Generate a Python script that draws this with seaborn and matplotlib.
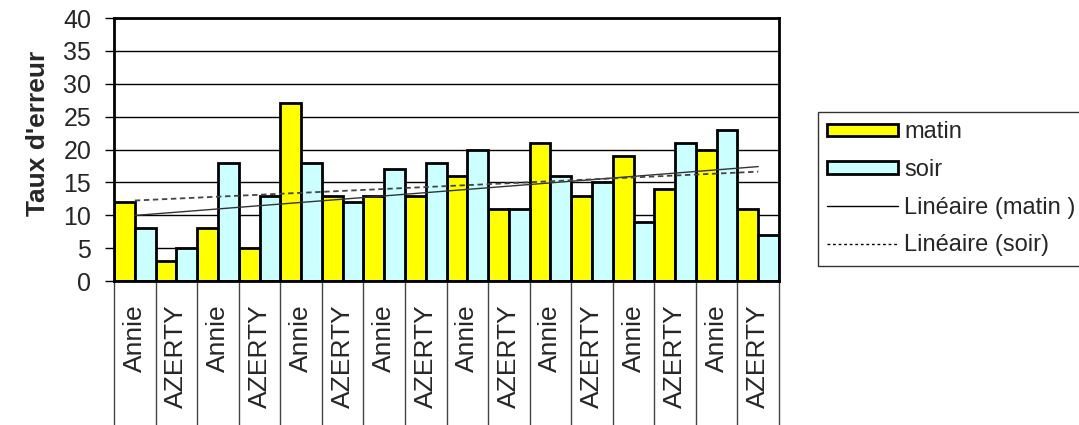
import numpy as np
import pandas as pd
import matplotlib
matplotlib.use('Agg')
import matplotlib.pyplot as plt
from matplotlib.patches import Patch
from matplotlib.lines import Line2D
import seaborn as sns

# Data
categories = ['Annie', 'AZERTY'] * 8
matin = [12, 3, 8, 5, 27, 13, 13, 13, 16, 11, 21, 13, 19, 14, 20, 11]
soir = [8, 5, 18, 13, 18, 12, 17, 18, 20, 11, 16, 15, 9, 21, 23, 7]

pos = list(range(len(categories)))
df = pd.DataFrame({
    'pos': pos * 2,
    'taux': matin + soir,
    'periode': ['matin'] * len(matin) + ['soir'] * len(soir),
})

sns.set_style('white')
plt.rcParams['font.family'] = ['Liberation Sans', 'DejaVu Sans']

fig = plt.figure(figsize=(10.79, 4.25), dpi=100)
ax = fig.add_axes([0.1057, 0.3388, 0.6163, 0.6188])

sns.barplot(data=df, x='pos', y='taux', hue='periode',
            palette={'matin': '#FFFF00', 'soir': '#CCFFFF'}, saturation=1,
            width=1.0, edgecolor='black', linewidth=2, legend=False, ax=ax)

# Linear trend lines
sns.regplot(x=pos, y=matin, scatter=False, ci=None, truncate=True, ax=ax,
            line_kws={'color': '#333333', 'lw': 1.0, 'ls': '-'})
sns.regplot(x=pos, y=soir, scatter=False, ci=None, truncate=True, ax=ax,
            line_kws={'color': '#444444', 'lw': 1.3, 'ls': (0, (3, 2))})

ax.set_ylim(0, 40)
ax.set_xlim(-0.5, len(categories) - 0.5)
ax.set_yticks(range(0, 41, 5))
ax.yaxis.grid(True, color='black', lw=1)
ax.set_axisbelow(True)
for s in ax.spines.values():
    s.set_color('black')
    s.set_linewidth(2)

ax.set_xticks(pos)
ax.set_xticklabels(categories, rotation=90, fontsize=19)
ax.set_xticks(np.arange(-0.5, len(categories)), minor=True)
ax.tick_params(axis='x', which='major', bottom=True, length=0, pad=17)
ax.tick_params(axis='x', which='minor', bottom=True, length=110, width=1,
               color='#444444', direction='out')
ax.tick_params(axis='y', length=6.5, width=1, color='black', labelsize=18,
               left=True, pad=10)
ax.set_xlabel('')
ax.set_ylabel("Taux d'erreur", fontsize=19, fontweight='bold')
ax.yaxis.set_label_coords(-0.097, 0.56)

handles = [
    Patch(facecolor='#FFFF00', edgecolor='black', lw=2),
    Patch(facecolor='#CCFFFF', edgecolor='black', lw=2),
    Line2D([], [], color='black', lw=1),
    Line2D([], [], color='black', lw=1, ls=(0, (2, 2))),
]
labels = ['matin', 'soir', 'Linéaire (matin )', 'Linéaire (soir)']
leg = fig.legend(handles, labels, loc='upper left', bbox_to_anchor=(0.758, 0.7365),
                 fontsize=17, frameon=True, fancybox=False, edgecolor='black',
                 handlelength=3.0, handleheight=0.42, labelspacing=0.66,
                 borderpad=0.4, handletextpad=0.25, borderaxespad=0)
leg.get_frame().set_linewidth(1)

fig.savefig('out.png', dpi=100)
